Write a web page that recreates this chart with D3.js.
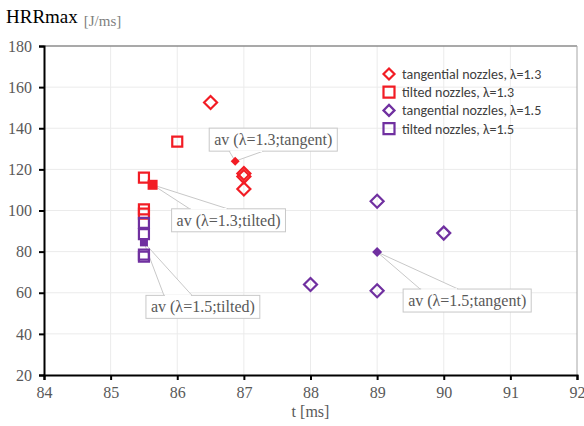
<!DOCTYPE html>
<html>
<head>
<meta charset="utf-8">
<script src="https://d3js.org/d3.v7.min.js"></script>
<style>
  body { margin: 0; background: #fff; }
</style>
</head>
<body>
<script>
  // data
  var tan13T = [86.5, 87, 87, 87],
    tan13H = [152.5, 118, 116.5, 110.5];
  var tilt13T = [86, 85.5, 85.5, 85.5],
    tilt13H = [133.5, 116, 100.5, 98.5];
  var tan15T = [89, 90, 88, 89],
    tan15H = [104.5, 89, 64, 61];
  var tilt15T = [85.5, 85.5, 85.5, 85.5],
    tilt15H = [94, 88.5, 78.5, 77.5];

  var avgLabels = ["av (λ=1.3;tangent)", "av (λ=1.3;tilted)", "av (λ=1.5;tilted)", "av (λ=1.5;tangent)"],
    avgT = [86.87, 85.63, 85.5, 89],
    avgH = [124, 112.5, 84.5, 79.8];

  var legendLabels = ["tangential nozzles, λ=1.3", "tilted nozzles, λ=1.3",
    "tangential nozzles, λ=1.5", "tilted nozzles, λ=1.5"];

  var xTicks = [84, 85, 86, 87, 88, 89, 90, 91, 92],
    yTicks = [20, 40, 60, 80, 100, 120, 140, 160, 180];

  var red = "#F21C24",
    purple = "#7030A0";

  var width = 584,
    height = 426;
  var margin = { top: 46, right: 7, bottom: 51, left: 44 };
  var serif = "'Liberation Serif', 'Times New Roman', serif";

  var svg = d3.select("body").append("svg")
    .attr("width", width)
    .attr("height", height)
    .style("font-family", serif);

  var x = d3.scaleLinear().domain([84, 92]).range([margin.left, width - margin.right]);
  var y = d3.scaleLinear().domain([20, 180]).range([height - margin.bottom, margin.top]);

  // grid
  svg.append("g").selectAll("line").data(xTicks.slice(1, -1)).enter().append("line")
    .attr("x1", d => x(d)).attr("x2", d => x(d))
    .attr("y1", y(180)).attr("y2", y(20))
    .attr("stroke", "#ebebeb").attr("stroke-width", 1);
  svg.append("g").selectAll("line").data(yTicks.slice(1, -1)).enter().append("line")
    .attr("x1", x(84)).attr("x2", x(92))
    .attr("y1", d => y(d)).attr("y2", d => y(d))
    .attr("stroke", "#ebebeb").attr("stroke-width", 1);

  // top and right border
  svg.append("line").attr("x1", x(84)).attr("x2", x(92)).attr("y1", y(180)).attr("y2", y(180))
    .attr("stroke", "#8c8c8c").attr("stroke-width", 1.5);
  svg.append("line").attr("x1", x(92)).attr("x2", x(92)).attr("y1", y(180)).attr("y2", y(20))
    .attr("stroke", "#a6a6a6").attr("stroke-width", 1);

  // axes
  var xAxis = svg.append("g")
    .attr("transform", "translate(0," + y(20) + ")")
    .call(d3.axisBottom(x).tickValues(xTicks).tickSize(5).tickPadding(7));
  var yAxis = svg.append("g")
    .attr("transform", "translate(" + x(84) + ",0)")
    .call(d3.axisLeft(y).tickValues(yTicks).tickSize(5).tickPadding(7));

  [xAxis, yAxis].forEach(function(a) {
    a.attr("font-family", serif).attr("font-size", 16);
    a.select(".domain").attr("stroke", "#000").attr("stroke-width", 2);
    a.selectAll(".tick line").attr("stroke", "#000").attr("stroke-width", 2);
    a.selectAll(".tick text").attr("fill", "#595959");
  });

  // titles
  var title = svg.append("text").attr("x", 6).attr("y", 23)
    .style("font-size", "19px").attr("fill", "#000");
  title.append("tspan").text("HRRmax");
  title.append("tspan").attr("dx", 6).attr("dy", 3)
    .style("font-size", "15px").attr("fill", "#7f7f7f").text("[J/ms]");

  svg.append("text").attr("x", (x(84) + x(92)) / 2).attr("y", height - 9)
    .attr("text-anchor", "middle").attr("fill", "#595959")
    .style("font-size", "16px").text("t [ms]");

  // symbols
  function diamondPath(s) {
    return "M0," + (-s) + "L" + s + ",0L0," + s + "L" + (-s) + ",0Z";
  }
  function squarePath(s) {
    return "M" + (-s) + "," + (-s) + "H" + s + "V" + s + "H" + (-s) + "Z";
  }

  var series = [
    { t: tan13T, h: tan13H, color: red, shape: "diamond" },
    { t: tilt13T, h: tilt13H, color: red, shape: "square" },
    { t: tan15T, h: tan15H, color: purple, shape: "diamond" },
    { t: tilt15T, h: tilt15H, color: purple, shape: "square" }
  ];

  // callouts (drawn under the markers)
  var calloutPos = [
    { dx: -26, dy: -33, base: [-6, 28] },
    { dx: 19, dy: 24, base: [37, 75] },
    { dx: 2, dy: 53, base: [20, 48] },
    { dx: 26, dy: 37, base: [43, 81] }
  ];
  var callouts = svg.append("g");
  avgLabels.forEach(function(lab, i) {
    var px = x(avgT[i]), py = y(avgH[i]);
    var p = calloutPos[i];
    var g = callouts.append("g");
    var t = g.append("text").text(lab)
      .attr("fill", "#595959").style("font-size", "16px");
    var bb = t.node().getBBox();
    var bw = bb.width + 10, bh = 23;
    var bx = px + p.dx, by = py + p.dy;
    var edge = p.dy < 0 ? by + bh : by;
    g.insert("path", "text")
      .attr("d", "M" + px + "," + py + "L" + (px + p.base[0]) + "," + edge +
        "L" + (px + p.base[1]) + "," + edge + "Z")
      .attr("fill", "#fff").attr("stroke", "#c8c8c8").attr("stroke-width", 1);
    g.insert("rect", "text")
      .attr("x", bx).attr("y", by).attr("width", bw).attr("height", bh)
      .attr("fill", "#fff").attr("stroke", "#c8c8c8").attr("stroke-width", 1);
    // cover the wedge base
    g.insert("line", "text")
      .attr("x1", px + p.base[0] + 1).attr("x2", px + p.base[1] - 1)
      .attr("y1", edge).attr("y2", edge)
      .attr("stroke", "#fff").attr("stroke-width", 1.5);
    t.attr("x", bx + 5).attr("y", by + 17);
  });

  series.forEach(function(s) {
    svg.append("g").selectAll("path").data(s.t).enter().append("path")
      .attr("transform", (d, i) => "translate(" + x(d) + "," + y(s.h[i]) + ")")
      .attr("d", s.shape === "diamond" ? diamondPath(6.5) : squarePath(5))
      .attr("fill", "none").attr("stroke", s.color).attr("stroke-width", 2.2);
  });

  // averages: filled markers
  var avgShape = ["diamond", "square", "square", "diamond"],
    avgColor = [red, red, purple, purple],
    avgSize = [4.5, 5, 4, 5];
  svg.append("g").selectAll("path").data(avgT).enter().append("path")
    .attr("transform", (d, i) => "translate(" + x(d) + "," + y(avgH[i]) + ")")
    .attr("d", (d, i) => avgShape[i] === "diamond" ? diamondPath(avgSize[i]) : squarePath(avgSize[i]))
    .attr("fill", (d, i) => avgColor[i]);

  // legend
  var legend = svg.append("g").attr("transform", "translate(389,74)");
  legendLabels.forEach(function(lab, i) {
    var row = legend.append("g").attr("transform", "translate(0," + (i * 18.2) + ")");
    var s = series[i];
    row.append("path")
      .attr("d", s.shape === "diamond" ? diamondPath(5.5) : squarePath(5.5))
      .attr("fill", "none").attr("stroke", s.color).attr("stroke-width", 2.2);
    row.append("text").attr("x", 13).attr("y", 5)
      .attr("fill", "#404040")
      .style("font-family", "Carlito, Lato, sans-serif")
      .style("font-size", "14px")
      .text(lab);
  });
</script>
</body>
</html>
